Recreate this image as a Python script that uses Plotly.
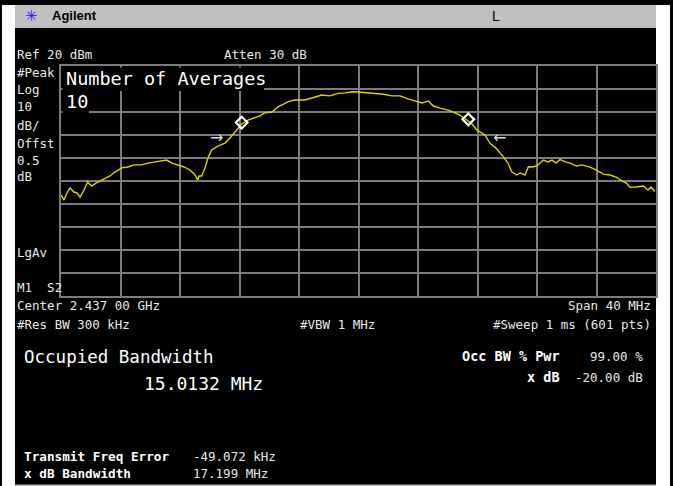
import plotly.graph_objects as go

W, H = 673, 486

# ---- data ----
freq_mhz = [2417.00, 2417.20, 2417.40, 2417.61, 2417.87, 2418.08, 2418.28, 2418.55, 2418.79, 2419.06,
            2419.35, 2419.62, 2419.96, 2420.29, 2420.63, 2421.08, 2421.50, 2421.91, 2422.43, 2422.85,
            2423.32, 2423.66, 2424.11, 2424.46, 2424.87, 2425.27, 2425.67, 2426.01, 2426.19, 2426.28,
            2426.46, 2426.68, 2426.88, 2427.13, 2427.55, 2428.03, 2428.36, 2428.70, 2428.90, 2429.15,
            2429.57, 2430.04, 2430.38, 2430.71, 2431.18, 2431.59, 2432.28, 2432.73, 2433.40, 2433.87,
            2434.53, 2435.08, 2435.64, 2436.09, 2436.54, 2436.97, 2437.55, 2438.11, 2438.67, 2439.25,
            2439.79, 2440.33, 2440.91, 2441.27, 2441.69, 2442.03, 2442.48, 2443.15, 2443.82, 2444.38,
            2444.63, 2444.95, 2445.24, 2445.50, 2445.84, 2446.24, 2446.73, 2447.05, 2447.30, 2447.63,
            2447.86, 2448.19, 2448.42, 2448.66, 2448.98, 2449.20, 2449.42, 2449.74, 2450.01, 2450.28,
            2450.55, 2450.88, 2451.22, 2451.67, 2452.03, 2452.56, 2452.97, 2453.46, 2453.91, 2454.36,
            2454.71, 2455.03, 2455.25, 2455.66, 2456.15, 2456.46, 2456.66, 2456.93]
level_dbm = [-36.1, -38.3, -35.2, -33.0, -34.8, -35.2, -37.0, -33.9, -30.4, -32.2,
             -30.9, -30.0, -28.7, -27.8, -26.1, -24.3, -23.9, -23.0, -23.0, -22.2,
             -21.7, -21.3, -20.9, -22.2, -23.0, -23.9, -25.2, -27.4, -29.6, -27.8,
             -27.8, -24.3, -20.0, -16.5, -14.8, -13.5, -11.3, -8.6, -7.0, -5.2,
             -3.5, -2.6, -1.7, -0.3, 0.0, 2.2, 4.5, 5.2, 5.2, 6.1,
             7.4, 7.0, 8.1, 8.3, 8.8, 8.7, 8.4, 7.8, 7.7, 7.0,
             7.0, 5.7, 4.5, 3.9, 4.8, 2.6, 1.7, 0.6, -1.3, -3.8,
             -5.2, -7.8, -9.1, -10.0, -13.6, -15.7, -19.4, -22.2, -26.0, -27.4,
             -26.5, -27.4, -23.8, -23.9, -23.5, -22.2, -20.9, -21.7, -20.9, -22.2,
             -20.6, -21.7, -22.2, -23.5, -23.0, -24.0, -25.2, -27.0, -27.4, -28.4,
             -30.0, -31.0, -32.7, -32.6, -32.2, -33.9, -32.6, -34.6]

marker_freq = [2429.15, 2444.38]
marker_level = [-4.6, -3.2]

arrow_freq = [2427.42, 2446.51]
arrow_level = [-10.9, -10.9]
arrow_text = ["→", "←"]

center_mhz = 2437.0
span_mhz = 40.0
ref_dbm = 20.0
db_per_div = 10.0

# ---- layout helpers (pixel -> paper) ----
def px(x):
    return x / W

def py(y):
    return 1 - y / H

GX0, GX1, GY0, GY1 = 61, 656, 66, 296

MONO = "DejaVu Sans Mono"
fig = go.Figure()

fig.add_trace(go.Scatter(x=freq_mhz, y=level_dbm, mode="lines",
                         line=dict(color="#d6d600", width=1.4), hoverinfo="skip"))
fig.add_trace(go.Scatter(x=marker_freq, y=marker_level, mode="markers",
                         marker=dict(symbol="diamond-open", size=9, color="white",
                                     line=dict(color="white", width=2.2)), hoverinfo="skip"))

shapes = []

def rect(x0, y0, x1, y1, color, layer="below"):
    shapes.append(dict(type="rect", xref="paper", yref="paper", x0=px(x0), x1=px(x1), y0=py(y1), y1=py(y0),
                       line=dict(width=0), fillcolor=color, layer=layer))

# outer black frame (top, left, right)
rect(0, 0, 673, 5, "black")
rect(0, 0, 2, 486, "black")
rect(670, 0, 673, 486, "black")
# black display area
rect(15, 28, 656, 485, "black")
# gray header
rect(15, 5, 656, 28, "#c0c0c0")
# bottom gray line
rect(15, 484.5, 656, 486, "#bdbdbd")
# black boxes behind "Number of Averages" text
rect(62.5, 67.5, 264, 91, "black", layer="above")
rect(62.5, 91, 89, 113, "black", layer="above")

ann = []

def text(x, y, s, size=12.5, color="#e8e8e8", family=MONO, anchor="left", bold=False):
    if bold:
        s = "<b>" + s + "</b>"
    ann.append(dict(x=px(x), y=py(y), xref="paper", yref="paper", text=s, showarrow=False,
                    xanchor=anchor, yanchor="middle", font=dict(family=family, size=size, color=color)))

# header
text(31, 16, "✳", size=15, color="#1a1aff", family="DejaVu Sans", anchor="center")
text(50, 16, "Agilent", size=13, color="black", family="Liberation Sans", bold=True)
text(496, 16, "L", size=14, color="black", family="Liberation Sans", anchor="center")

# top info
text(15, 55, "Ref 20 dBm")
text(222, 55, "Atten 30 dB")
left_labels = [("#Peak", 72), ("Log", 90), ("10", 107), ("dB/", 125), ("Offst", 143),
               ("0.5", 160), ("dB", 176), ("LgAv", 252), ("M1  S2", 287)]
for s, y in left_labels:
    text(15, y, s)

text(64, 79, "Number of Averages", size=18.5, color="white")
text(64, 101, "10", size=18.5, color="white")

# bottom info
text(15, 305, "Center 2.437 00 GHz")
text(653, 305, "Span 40 MHz", anchor="right")
text(15, 324, "#Res BW 300 kHz")
text(298, 324, "#VBW 1 MHz")
text(653, 324, "#Sweep 1 ms (601 pts)", anchor="right")

text(22, 357, "Occupied Bandwidth", size=17.5, color="white")
text(265, 383, "15.0132 MHz", size=18, color="white", anchor="right")

text(562, 356, "Occ BW % Pwr", size=13.5, color="white", bold=True, anchor="right")
text(645, 356, "99.00 %", anchor="right")
text(562, 377, "x dB", size=13.5, color="white", bold=True, anchor="right")
text(645, 377, "-20.00 dB", anchor="right")

text(22, 456, "Transmit Freq Error", size=12.7, color="white", bold=True)
text(191, 456, "-49.072 kHz")
text(22, 473, "x dB Bandwidth", size=12.7, color="white", bold=True)
text(191, 473, "17.199 MHz")

# -20 dB bandwidth arrows
for f, l, s in zip(arrow_freq, arrow_level, arrow_text):
    ann.append(dict(x=f, y=l, xref="x", yref="y", text=s, showarrow=False,
                    font=dict(family="DejaVu Sans", size=16, color="#d8d8d8")))

fig.update_layout(
    width=W, height=H, margin=dict(l=0, r=0, t=0, b=0, pad=0),
    paper_bgcolor="white", plot_bgcolor="black", showlegend=False,
    shapes=shapes, annotations=ann,
    xaxis=dict(domain=[px(GX0), px(GX1)], range=[center_mhz - span_mhz / 2, center_mhz + span_mhz / 2],
               tick0=center_mhz - span_mhz / 2, dtick=span_mhz / 10, showticklabels=False, ticks="",
               showgrid=True, gridcolor="#7c7c7c", gridwidth=1.6, zeroline=False,
               showline=True, mirror=True, linecolor="#7c7c7c", linewidth=2, fixedrange=True),
    yaxis=dict(domain=[py(GY1), py(GY0)], range=[ref_dbm - 10 * db_per_div, ref_dbm],
               tick0=ref_dbm, dtick=db_per_div, showticklabels=False, ticks="",
               showgrid=True, gridcolor="#7c7c7c", gridwidth=1.6, zeroline=False,
               showline=True, mirror=True, linecolor="#7c7c7c", linewidth=2, fixedrange=True),
)

fig.write_html("out.html", config={"displayModeBar": False},
               post_script="document.body.style.margin='0';document.body.style.overflow='hidden';")
